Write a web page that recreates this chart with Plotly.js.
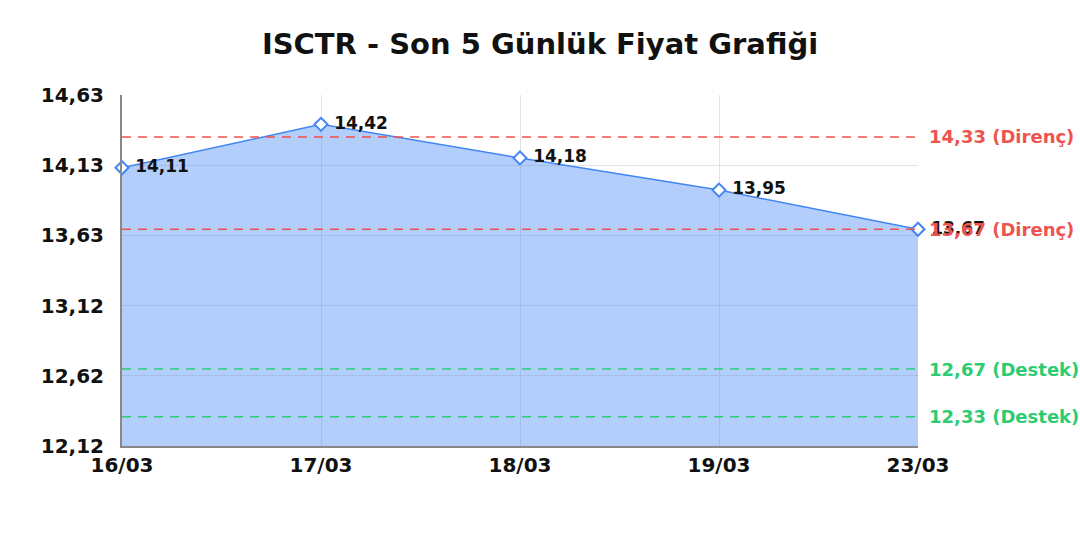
<!DOCTYPE html>
<html>
<head>
<meta charset="utf-8">
<script src="https://cdn.plot.ly/plotly-3.0.1.min.js"></script>
<style>
  html, body { margin: 0; padding: 0; background: #fff; }
  #chart { width: 1080px; height: 540px; }
</style>
</head>
<body>
<div id="chart"></div>
<script>
// Son 5 gunluk kapanis fiyatlari
const dates = ['16/03', '17/03', '18/03', '19/03', '23/03'];
const prices = [14.11, 14.42, 14.18, 13.95, 13.67];

// Direnc / destek seviyeleri
const resistanceLevels = [14.33, 13.67];
const supportLevels = [12.67, 12.33];

// Y ekseni tikleri
const yTickVals = [12.12, 12.622, 13.124, 13.626, 14.128, 14.63];
const yTickText = ['12,12', '12,62', '13,12', '13,63', '14,13', '14,63'];

const fmt = v => v.toFixed(2).replace('.', ',');

const RED = '#ef5350';
const GREEN = '#2ecc71';
const BLUE = '#4285f4';

const priceTrace = {
  x: dates,
  y: prices,
  type: 'scatter',
  mode: 'lines+markers+text',
  fill: 'tozeroy',
  fillcolor: 'rgba(66, 133, 244, 0.4)',
  line: { color: BLUE, width: 1.5 },
  marker: { symbol: 'diamond', size: 10, color: '#fff', line: { width: 2, color: BLUE } },
  text: prices.map(v => '\u00a0' + fmt(v)),
  textposition: 'middle right',
  textfont: { family: 'DejaVu Sans', size: 17, color: '#111', weight: 'bold' },
  cliponaxis: false,
  hoverinfo: 'skip'
};

const levelShapes = [];
const levelNotes = [];
const addLevel = (v, color, label) => {
  levelShapes.push({
    type: 'line', xref: 'paper', yref: 'y', x0: 0, x1: 1, y0: v, y1: v,
    line: { color: color, width: 1.5, dash: '9px,7px' }, layer: 'above'
  });
  levelNotes.push({
    xref: 'paper', yref: 'y', x: 1, y: v, xanchor: 'left', xshift: 9,
    text: fmt(v) + ' (' + label + ')', showarrow: false,
    font: { family: 'DejaVu Sans', size: 18, color: color, weight: 'bold' }
  });
};
resistanceLevels.forEach(v => addLevel(v, RED, 'Direnç'));
supportLevels.forEach(v => addLevel(v, GREEN, 'Destek'));

const layout = {
  width: 1080,
  height: 540,
  paper_bgcolor: '#fff',
  plot_bgcolor: '#fff',
  margin: { t: 95, r: 162, b: 94, l: 122 },
  font: { family: 'DejaVu Sans', color: '#111' },
  title: {
    text: '<b>ISCTR - Son 5 Günlük Fiyat Grafiği</b>',
    x: 0.5, xref: 'container', xanchor: 'center',
    y: 0.918, yref: 'container', yanchor: 'middle',
    font: { family: 'DejaVu Sans', size: 29, color: '#111' }
  },
  showlegend: false,
  xaxis: {
    type: 'category',
    range: [0, 4],
    showgrid: true,
    gridcolor: '#e3e3e3',
    zeroline: false,
    showline: true,
    linecolor: '#888',
    linewidth: 2,
    ticks: '',
    tickfont: { family: 'DejaVu Sans', size: 20, color: '#111', weight: 'bold' }
  },
  yaxis: {
    range: [12.12, 14.63],
    tickvals: yTickVals,
    ticktext: yTickText,
    showgrid: true,
    gridcolor: '#e3e3e3',
    zeroline: false,
    showline: true,
    linecolor: '#888',
    linewidth: 2,
    ticks: '',
    ticklabelstandoff: 12,
    tickfont: { family: 'DejaVu Sans', size: 20, color: '#111', weight: 'bold' }
  },
  shapes: levelShapes,
  annotations: levelNotes
};

Plotly.newPlot('chart', [priceTrace], layout, { displayModeBar: false, staticPlot: true });
</script>
</body>
</html>
